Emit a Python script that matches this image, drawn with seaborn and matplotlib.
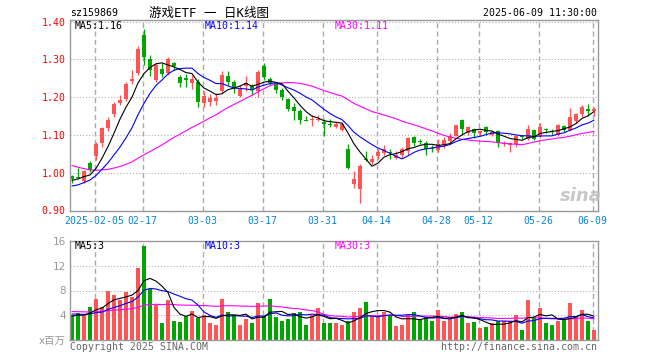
import numpy as np
import pandas as pd
import seaborn as sns
import matplotlib
matplotlib.use('Agg')
import matplotlib.pyplot as plt

# ---- data (88 trading days, 2025-01-22 .. 2025-06-09) ----
open_ = [0.990, 0.988, 0.978, 1.025, 1.043, 1.078, 1.118, 1.155, 1.184, 1.194,
         1.242, 1.263, 1.364, 1.300, 1.245, 1.274, 1.263, 1.291, 1.253, 1.250,
         1.238, 1.240, 1.185, 1.188, 1.190, 1.215, 1.257, 1.241, 1.202, 1.229,
         1.230, 1.215, 1.281, 1.249, 1.237, 1.219, 1.195, 1.175, 1.164, 1.138,
         1.139, 1.140, 1.133, 1.130, 1.120, 1.114, 1.063, 0.969, 0.958, 1.036,
         1.028, 1.044, 1.053, 1.054, 1.040, 1.046, 1.057, 1.095, 1.083, 1.079,
         1.064, 1.059, 1.072, 1.083, 1.098, 1.140, 1.105, 1.116, 1.104, 1.121,
         1.101, 1.110, 1.075, 1.073, 1.075, 1.096, 1.089, 1.112, 1.096, 1.113,
         1.108, 1.101, 1.123, 1.114, 1.136, 1.156, 1.169, 1.162]
high = [0.995, 1.012, 1.008, 1.030, 1.082, 1.122, 1.147, 1.188, 1.206, 1.240,
        1.272, 1.335, 1.380, 1.311, 1.289, 1.289, 1.305, 1.294, 1.259, 1.260,
        1.258, 1.249, 1.215, 1.207, 1.212, 1.270, 1.270, 1.245, 1.232, 1.256,
        1.235, 1.272, 1.291, 1.254, 1.241, 1.223, 1.197, 1.184, 1.168, 1.149,
        1.153, 1.152, 1.141, 1.141, 1.136, 1.135, 1.075, 1.005, 1.022, 1.058,
        1.048, 1.063, 1.072, 1.063, 1.058, 1.068, 1.095, 1.097, 1.090, 1.083,
        1.074, 1.088, 1.095, 1.105, 1.127, 1.142, 1.123, 1.118, 1.114, 1.123,
        1.110, 1.112, 1.083, 1.082, 1.100, 1.100, 1.125, 1.116, 1.131, 1.118,
        1.116, 1.130, 1.125, 1.171, 1.158, 1.180, 1.182, 1.174]
low = [0.972, 0.984, 0.972, 1.003, 1.034, 1.067, 1.111, 1.148, 1.179, 1.190,
       1.236, 1.259, 1.285, 1.256, 1.241, 1.252, 1.259, 1.272, 1.228, 1.228,
       1.222, 1.175, 1.174, 1.176, 1.178, 1.210, 1.232, 1.212, 1.200, 1.215,
       1.206, 1.200, 1.245, 1.232, 1.212, 1.193, 1.162, 1.140, 1.129, 1.137,
       1.124, 1.136, 1.097, 1.120, 1.118, 1.110, 1.011, 0.960, 0.921, 1.030,
       1.022, 1.037, 1.048, 1.035, 1.035, 1.040, 1.048, 1.070, 1.075, 1.048,
       1.055, 1.054, 1.066, 1.079, 1.096, 1.101, 1.101, 1.092, 1.098, 1.101,
       1.098, 1.068, 1.070, 1.054, 1.068, 1.088, 1.086, 1.086, 1.092, 1.105,
       1.101, 1.098, 1.107, 1.110, 1.132, 1.147, 1.149, 1.149]
close = [0.983, 0.985, 1.005, 1.007, 1.076, 1.117, 1.140, 1.182, 1.193, 1.235,
         1.249, 1.328, 1.307, 1.272, 1.285, 1.261, 1.300, 1.281, 1.238, 1.245,
         1.248, 1.187, 1.202, 1.198, 1.198, 1.259, 1.241, 1.224, 1.224, 1.236,
         1.218, 1.267, 1.252, 1.238, 1.220, 1.200, 1.168, 1.164, 1.140, 1.137,
         1.140, 1.143, 1.128, 1.127, 1.128, 1.130, 1.013, 0.984, 1.019, 1.033,
         1.037, 1.054, 1.062, 1.052, 1.048, 1.063, 1.092, 1.078, 1.081, 1.062,
         1.063, 1.077, 1.086, 1.097, 1.125, 1.115, 1.120, 1.106, 1.110, 1.108,
         1.107, 1.079, 1.079, 1.079, 1.097, 1.094, 1.116, 1.090, 1.121, 1.112,
         1.107, 1.127, 1.113, 1.147, 1.156, 1.175, 1.162, 1.168]
# volume, millions
volume = [4.0, 4.4, 4.1, 5.3, 6.6, 5.4, 8.0, 7.2, 6.4, 7.8,
          6.9, 11.6, 15.2, 8.3, 5.6, 2.8, 6.5, 3.1, 2.9, 3.8,
          4.7, 3.6, 4.0, 2.8, 2.4, 6.6, 4.5, 4.0, 2.4, 3.4,
          2.7, 5.9, 3.9, 6.6, 3.7, 3.0, 3.4, 4.3, 4.5, 2.5,
          4.0, 5.2, 2.8, 2.7, 2.8, 2.4, 3.0, 4.6, 5.2, 6.2,
          3.9, 3.9, 4.6, 3.9, 2.3, 2.4, 4.0, 4.5, 3.2, 3.6,
          3.0, 4.8, 3.0, 3.4, 4.2, 4.6, 2.8, 2.9, 2.0, 2.1,
          2.7, 3.0, 3.0, 3.0, 4.0, 1.6, 6.4, 3.5, 5.2, 2.8,
          2.4, 3.0, 3.2, 5.9, 3.9, 4.8, 3.0, 1.6]
# days before the window, inferred from where the MA lines start
pre_close = [1.12, 1.11, 1.115, 1.10, 1.09, 1.095, 1.08, 1.07, 1.065, 1.05,
             1.04, 1.035, 1.02, 1.01, 1.005, 0.995, 0.99, 0.985, 0.975, 0.97,
             0.955, 0.945, 0.94, 0.955, 0.955, 0.965, 0.975, 0.985, 0.99]
pre_volume = [5.2, 4.9, 5.5, 4.6, 4.3, 5.0, 4.7, 4.4, 5.3, 4.8,
              4.5, 4.9, 5.1, 4.6, 4.2, 4.8, 5.0, 4.7, 4.5, 5.0,
              4.8, 4.3, 4.6, 4.5, 4.55, 3.6, 4.0, 3.7, 3.95]

tick_idx = [4, 12, 22, 32, 42, 51, 61, 68, 78, 87]
tick_lab = ['2025-02-05', '02-17', '03-03', '03-17', '03-31',
            '04-14', '04-28', '05-12', '05-26', '06-09']

RED = '#ff5454'
GREEN = '#00a600'
MONO = ['DejaVu Sans Mono', 'Noto Sans CJK SC']

sns.set_theme(style='white')
plt.rcParams['font.family'] = MONO

n = len(close)
idx = np.arange(n)
o = np.array(open_); c = np.array(close)
up = c >= o
colors = np.where(up, RED, GREEN)

cs = pd.Series(pre_close + close)
vs = pd.Series(pre_volume + volume)
k = len(pre_close)
ma = {w: cs.rolling(w).mean().iloc[k:].to_numpy() for w in (5, 10, 30)}
vma = {w: vs.rolling(w).mean().iloc[k:].to_numpy() for w in (5, 10, 30)}
ma_col = {5: 'black', 10: '#0000ff', 30: '#ff00ff'}

fig = plt.figure(figsize=(6.6, 3.6), dpi=100)
W, H = 660, 360
ax1 = fig.add_axes([70 / W, 1 - 210.5 / H, 528 / W, 190.5 / H])
ax2 = fig.add_axes([70 / W, 1 - 340 / H, 528 / W, 99 / H])

grid_pos = [t - 0.22 for t in tick_idx]
for ax in (ax1, ax2):
    ax.set_xlim(-0.33, n - 0.33)
    ax.set_xticks(grid_pos)
    ax.grid(axis='x', ls=(0, (3.6, 2.4)), color='#aaaaaa', lw=1.0)
    ax.grid(axis='y', ls=(0, (1, 2)), color='#aaaaaa', lw=0.75)
    ax.set_axisbelow(True)
    for s in ax.spines.values():
        s.set_color('#999999')
        s.set_linewidth(1.0)
    ax.tick_params(length=0)

# candles
ax1.vlines(idx, low, high, colors=colors, lw=0.9, zorder=2)
body_h = np.maximum(np.abs(c - o), 0.0027)
ax1.bar(idx, body_h, bottom=np.minimum(o, c), width=0.75, color=colors,
        linewidth=0, zorder=2)
for w in (30, 10, 5):
    sns.lineplot(x=idx, y=ma[w], color=ma_col[w], lw=0.8, ax=ax1, zorder=3)
ax1.set_ylim(0.90, 1.404)
yt = [0.9, 1.0, 1.1, 1.2, 1.3, 1.4]
ax1.set_yticks(yt)
ax1.set_yticklabels([f'{v:.2f}' for v in yt], color='#ff0000', fontsize=7.1)
ax1.set_xticklabels(tick_lab, color='#0a84d8', fontsize=7.1)
ax1.tick_params(axis='y', pad=3)
ax1.tick_params(axis='x', pad=4)
ax1.set_xlabel(''); ax1.set_ylabel('')

# volume
vdf = pd.DataFrame({'i': idx, 'v': volume, 'd': np.where(up, 'up', 'down')})
sns.barplot(data=vdf, x='i', y='v', hue='d', palette={'up': RED, 'down': GREEN},
            dodge=False, native_scale=True, width=0.8, legend=False,
            linewidth=0, saturation=1, ax=ax2, zorder=2)
for w in (30, 10, 5):
    sns.lineplot(x=idx, y=vma[w], color=ma_col[w], lw=0.8, ax=ax2, zorder=3)
ax2.set_xlim(-0.33, n - 0.33)
ax2.set_xticks(grid_pos)
ax2.set_xticklabels([])
ax2.set_ylim(0, 16)
ax2.set_yticks([0, 4, 8, 12, 16])
ax2.set_yticklabels(['x百万', '4', '8', '12', '16'], color='#999999', fontsize=7.5,
                    family=['DejaVu Sans', 'Noto Sans CJK SC'])
ax2.tick_params(axis='y', pad=3)
ax2.set_xlabel(''); ax2.set_ylabel('')


def ftext(x, y, s, **kw):
    kw.setdefault('fontsize', 7.1)
    kw.setdefault('va', 'center')
    fig.text(x / W, 1 - y / H, s, **kw)


ftext(70, 13, 'sz159869', color='black')
ftext(209, 13, '游戏ETF 一 日K线图', ha='center', fontsize=9, color='black')
ftext(597, 13, '2025-06-09 11:30:00', ha='right', color='black')

ftext(75, 26, f'MA5:{ma[5][-1]:.2f}', color=ma_col[5])
ftext(205, 26, f'MA10:{ma[10][-1]:.2f}', color=ma_col[10])
ftext(335, 26, f'MA30:{ma[30][-1]:.2f}', color=ma_col[30])
ftext(75, 246, f'MA5:{int(vma[5][-1])}', color=ma_col[5])
ftext(205, 246, f'MA10:{int(vma[10][-1])}', color=ma_col[10])
ftext(335, 246, f'MA30:{int(vma[30][-1])}', color=ma_col[30])

ftext(70, 347, 'Copyright 2025 SINA.COM', color='#666666')
ftext(597, 347, 'http://finance.sina.com.cn', ha='right', color='#666666')
ftext(581, 196, 'sina', ha='center', fontsize=13, color='#bbbbbb',
      family='DejaVu Sans', weight='bold', style='italic', alpha=0.8)

fig.savefig('out.png', dpi=100)
